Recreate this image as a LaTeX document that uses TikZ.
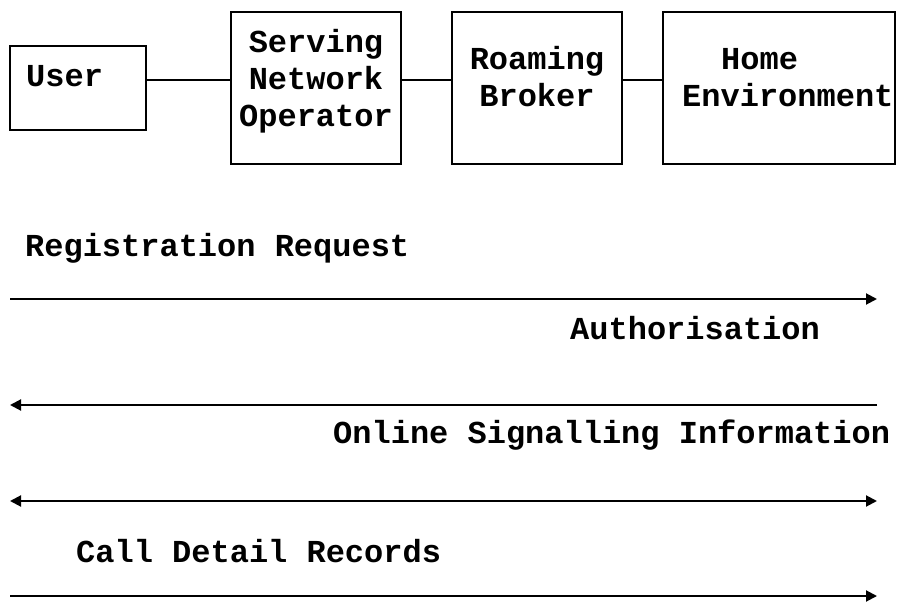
\documentclass[tikz,border=0pt]{standalone}
\usepackage{fontspec}
\setmonofont{Liberation Mono}
\usetikzlibrary{arrows.meta}
\tikzset{
  box/.style={draw, line width=2pt, inner sep=0pt},
  lbl/.style={font=\ttfamily\bfseries\fontsize{32}{37}\selectfont, inner sep=0pt},
  link/.style={line width=2pt},
  msg/.style={line width=2pt, -{Triangle[length=11pt,width=11pt]}},
}
\begin{document}
\begin{tikzpicture}[x=1pt, y=-1pt]
    \useasboundingbox (0,0) rectangle (897,604);
    % parties
    \node[box, minimum width=136pt, minimum height=84pt]  (user) at ( 78, 88) {};
    \node[box, minimum width=170pt, minimum height=152pt] (sno)  at (316, 88) {};
    \node[box, minimum width=170pt, minimum height=152pt] (rb)   at (537, 88) {};
    \node[box, minimum width=232pt, minimum height=152pt] (home) at (779, 88) {};
    % party names (base = last line)
    \node[lbl, anchor=base west] (usertxt) at ( 26, 87) {User};
    \node[lbl, anchor=base, align=center] (snotxt) at (316, 127) {Serving\\Network\\Operator};
    \node[lbl, anchor=base, align=center] (rbtxt) at (537, 107) {Roaming\\Broker};
    \node[lbl, anchor=base west, align=left] (hometxt) at (682, 107) {\hspace*{39pt}Home\\Environment};
    % links between parties
    \draw[link] ([yshift=8pt]user.east) -- ([yshift=8pt]sno.west);
    \draw[link] ([yshift=8pt]sno.east)  -- ([yshift=8pt]rb.west);
    \draw[link] ([yshift=8pt]rb.east)   -- ([yshift=8pt]home.west);
    % message ends
    \coordinate (regl)  at ( 10, 299);
    \coordinate (regr)  at (877, 299);
    \coordinate (authl) at ( 10, 405);
    \coordinate (authr) at (877, 405);
    \coordinate (sigl)  at ( 10, 501);
    \coordinate (sigr)  at (877, 501);
    \coordinate (cdrl)  at ( 10, 596);
    \coordinate (cdrr)  at (877, 596);
    % messages
    \node[lbl, anchor=base west] (regtxt)  at ( 25, 256) {Registration Request};
    \draw[msg] (regl) -- (regr);
    \node[lbl, anchor=base west] (authtxt) at (570, 339) {Authorisation};
    \draw[msg] (authr) -- (authl);
    \node[lbl, anchor=base west] (sigtxt)  at (333, 443) {Online Signalling Information};
    \draw[msg, {Triangle[length=11pt,width=11pt]}-{Triangle[length=11pt,width=11pt]}] (sigl) -- (sigr);
    \node[lbl, anchor=base west] (cdrtxt)  at ( 76, 562) {Call Detail Records};
    \draw[msg] (cdrl) -- (cdrr);
\end{tikzpicture}
\end{document}
